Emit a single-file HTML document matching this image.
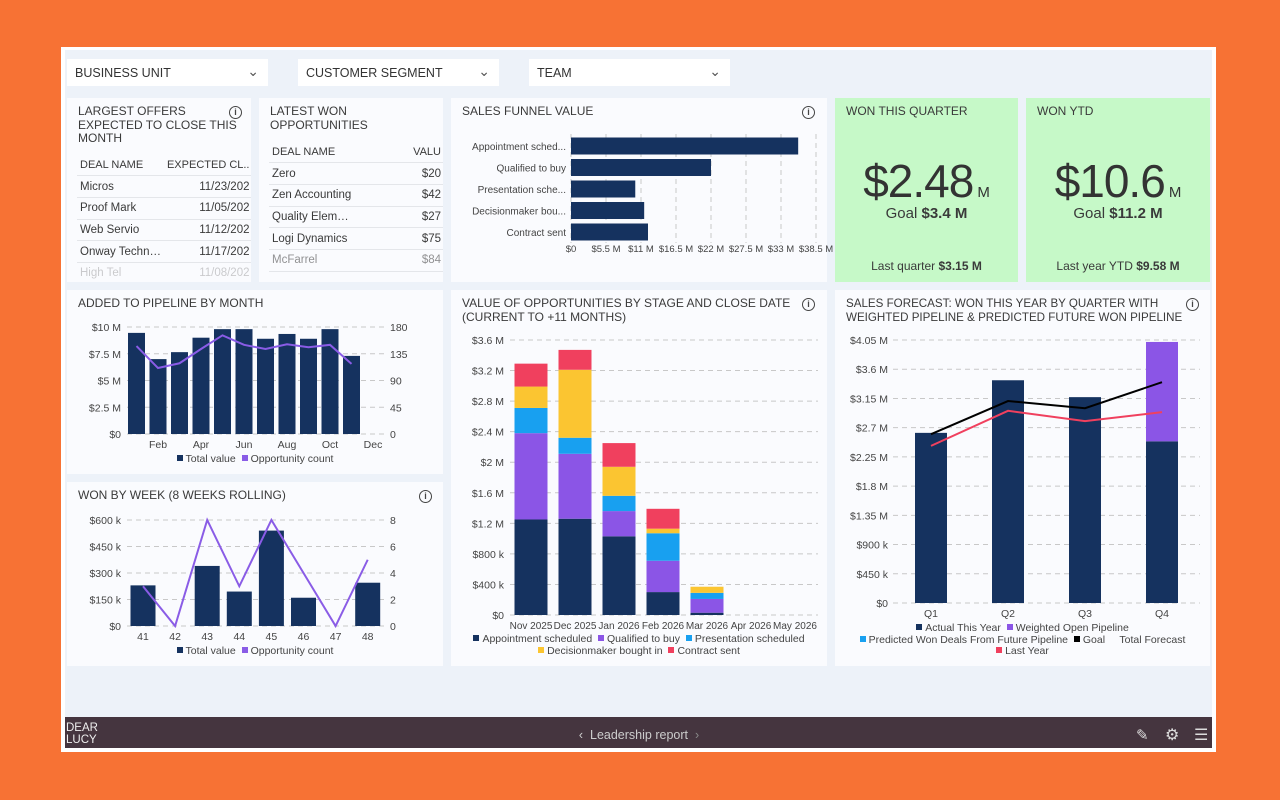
<!DOCTYPE html>
<html><head><meta charset="utf-8">
<style>
*{box-sizing:border-box;margin:0;padding:0}
body{width:1280px;height:800px;background:#F77234;font-family:"Liberation Sans",sans-serif;color:#3a3a3a;position:relative;overflow:hidden}
.abs{position:absolute}
#frame{left:61px;top:47px;width:1155px;height:705px;background:#fff}
#dash{left:65px;top:50px;width:1147px;height:667px;background:#EDF2F9}
.dd{position:absolute;top:59px;width:201px;height:27px;background:#fff;font-size:12.5px;padding:7px 8px;color:#333}
.dd span{position:absolute;right:9px;top:4px;font-size:14px;color:#555}
.panel{position:absolute;background:#FAFBFE;overflow:hidden}
.title{position:absolute;left:11px;top:7px;font-size:12px;line-height:13.5px;color:#3a3a3a;text-transform:uppercase}
.info{position:absolute;width:13px;height:13px;border:1.5px solid #444;border-radius:50%;font-size:9px;font-weight:bold;text-align:center;line-height:10px;color:#444}
.green{background:#C6F9C8}
table{border-collapse:collapse;font-size:11.5px;position:absolute}
td{height:21.7px;border-bottom:1px solid #e4e6ea;white-space:nowrap;overflow:hidden;padding:0 3px}
.leg{position:absolute;font-size:10.5px;color:#444;text-align:center;white-space:nowrap}
.sq{display:inline-block;width:6px;height:6px;margin-right:3px;vertical-align:1px}
#footer{left:65px;top:717px;width:1147px;height:31px;background:#45353F}
svg text{font-family:"Liberation Sans",sans-serif}
.big{position:absolute;left:0;top:56px;text-align:center;font-size:46px;color:#333;letter-spacing:-1px}
.big span{font-size:15px;letter-spacing:0;margin-left:4px}
</style></head>
<body>
<div id="frame" class="abs"></div>
<div id="dash" class="abs"></div>

<div class="dd" style="left:67px">BUSINESS UNIT<span>&#8964;</span></div>
<div class="dd" style="left:298px">CUSTOMER SEGMENT<span>&#8964;</span></div>
<div class="dd" style="left:529px">TEAM<span>&#8964;</span></div>

<div class="panel" style="left:67px;top:98px;width:184px;height:184px">
<div class="title">Largest offers<br>expected to close this<br>month</div>
<div class="info" style="left:162px;top:8px">i</div>
<table style="left:10px;top:56px;width:166px">
<tr><td style="font-size:11px">DEAL NAME</td><td style="text-align:right;font-size:11px">EXPECTED CL..</td></tr>
<tr><td>Micros</td><td style="text-align:right">11/23/202</td></tr>
<tr><td>Proof Mark</td><td style="text-align:right">11/05/202</td></tr>
<tr><td>Web Servio</td><td style="text-align:right">11/12/202</td></tr>
<tr><td>Onway Techn…</td><td style="text-align:right">11/17/202</td></tr>
<tr style="opacity:.25"><td>High Tel</td><td style="text-align:right">11/08/202</td></tr>
</table>
</div>

<div class="panel" style="left:259px;top:98px;width:184px;height:184px">
<div class="title">Latest won<br>opportunities</div>
<table style="left:10px;top:43px;width:175px">
<tr><td style="font-size:11px">DEAL NAME</td><td style="text-align:right;font-size:11px">VALU</td></tr>
<tr><td>Zero</td><td style="text-align:right">$20</td></tr>
<tr><td>Zen Accounting</td><td style="text-align:right">$42</td></tr>
<tr><td>Quality Elem…</td><td style="text-align:right">$27</td></tr>
<tr><td>Logi Dynamics</td><td style="text-align:right">$75</td></tr>
<tr style="opacity:.55"><td>McFarrel</td><td style="text-align:right">$84</td></tr>
</table>
</div>

<div class="panel" style="left:451px;top:98px;width:376px;height:184px">
<div class="title">Sales funnel value</div>
<div class="info" style="left:351px;top:8px">i</div>
</div>

<div class="panel green" style="left:835px;top:98px;width:183px;height:184px">
<div class="title">Won this quarter</div>
<div class="big" style="width:183px">$2.48<span>M</span></div>
<div class="abs" style="left:0;width:183px;top:107px;text-align:center;font-size:15px">Goal <b>$3.4 M</b></div>
<div class="abs" style="left:0;width:183px;top:161px;text-align:center;font-size:12px">Last quarter <b>$3.15 M</b></div>
</div>

<div class="panel green" style="left:1026px;top:98px;width:184px;height:184px">
<div class="title">Won YTD</div>
<div class="big" style="width:184px">$10.6<span>M</span></div>
<div class="abs" style="left:0;width:184px;top:107px;text-align:center;font-size:15px">Goal <b>$11.2 M</b></div>
<div class="abs" style="left:0;width:184px;top:161px;text-align:center;font-size:12px">Last year YTD <b>$9.58 M</b></div>
</div>

<div class="panel" style="left:67px;top:290px;width:376px;height:184px">
<div class="title">Added to pipeline by month</div>
<div class="leg" style="left:0;width:376px;top:163px"><span class="sq" style="background:#15325F"></span>Total value &nbsp;<span class="sq" style="background:#8A5CE6"></span>Opportunity count</div>
</div>

<div class="panel" style="left:67px;top:482px;width:376px;height:184px">
<div class="title">Won by week (8 weeks rolling)</div>
<div class="info" style="left:352px;top:8px">i</div>
<div class="leg" style="left:0;width:376px;top:163px"><span class="sq" style="background:#15325F"></span>Total value &nbsp;<span class="sq" style="background:#8A5CE6"></span>Opportunity count</div>
</div>

<div class="panel" style="left:451px;top:290px;width:376px;height:376px">
<div class="title">Value of opportunities by stage and close date<br>(current to +11 months)</div>
<div class="info" style="left:351px;top:8px">i</div>
<div class="leg" style="left:0;width:376px;top:343px;line-height:12px"><span class="sq" style="background:#15325F"></span>Appointment scheduled &nbsp;<span class="sq" style="background:#8B55E6"></span>Qualified to buy &nbsp;<span class="sq" style="background:#18A0F0"></span>Presentation scheduled<br><span class="sq" style="background:#FBC531"></span>Decisionmaker bought in &nbsp;<span class="sq" style="background:#F0405E"></span>Contract sent</div>
</div>

<div class="panel" style="left:835px;top:290px;width:375px;height:376px">
<div class="title" style="font-size:11.6px">Sales forecast: won this year by quarter with<br>weighted pipeline &amp; predicted future won pipeline</div>
<div class="info" style="left:351px;top:8px">i</div>
<div class="leg" style="left:0;width:375px;top:333px;line-height:11.7px"><span class="sq" style="background:#15325F"></span>Actual This Year &nbsp;<span class="sq" style="background:#8B55E6"></span>Weighted Open Pipeline<br><span class="sq" style="background:#18A0F0"></span>Predicted Won Deals From Future Pipeline &nbsp;<span class="sq" style="background:#000"></span>Goal &nbsp;&nbsp;&nbsp; Total Forecast<br><span class="sq" style="background:#F0405E"></span>Last Year</div>
</div>

<div id="footer" class="abs">
<div class="abs" style="left:1px;top:5px;font-size:11.5px;line-height:12px;color:#eee">DEAR<br>LUCY</div>
<div class="abs" style="left:495px;width:158px;top:11px;text-align:center;font-size:12.5px;color:#ccc">&#8249;&nbsp; Leadership report &nbsp;<span style="color:#888">&#8250;</span></div>
<div class="abs" style="left:1071px;top:9px;font-size:15px;color:#ddd">&#9998;</div>
<div class="abs" style="left:1100px;top:8px;font-size:16px;color:#ddd">&#9881;</div>
<div class="abs" style="left:1129px;top:8px;font-size:16px;color:#ddd">&#9776;</div>
</div>

<svg id="charts" class="abs" style="left:0;top:0" width="1280" height="800"></svg>

<script>
// ---- data ----
const pipeMonths=['Jan','Feb','Mar','Apr','May','Jun','Jul','Aug','Sep','Oct','Nov','Dec'];
const pipeValues=[9.45,7.0,7.65,9.0,9.8,9.8,8.9,9.35,8.9,9.8,7.3,0];
const pipeCounts=[148,111,119,143,166,150,143,151,146,150,118];
const pipeLeftTicks=[0,2.5,5,7.5,10];
const pipeLeftLabels=['$0','$2.5 M','$5 M','$7.5 M','$10 M'];
const pipeRightTicks=[0,45,90,135,180];

const weeks=['41','42','43','44','45','46','47','48'];
const weekValues=[230,0,340,195,540,160,0,245];
const weekCounts=[3,0,8,3,8,4,0,5];
const weekLeftTicks=[0,150,300,450,600];
const weekLeftLabels=['$0','$150 k','$300 k','$450 k','$600 k'];
const weekRightTicks=[0,2,4,6,8];

const funnelStages=['Appointment sched...','Qualified to buy','Presentation sche...','Decisionmaker bou...','Contract sent'];
const funnelValues=[35.7,22.0,10.1,11.5,12.1];
const funnelTicks=[0,5.5,11,16.5,22,27.5,33,38.5];
const funnelLabels=['$0','$5.5 M','$11 M','$16.5 M','$22 M','$27.5 M','$33 M','$38.5 M'];

const stageMonths=['Nov 2025','Dec 2025','Jan 2026','Feb 2026','Mar 2026','Apr 2026','May 2026'];
const stageAppt=[1.25,1.26,1.03,0.30,0.03,0,0];
const stageQual=[1.13,0.85,0.33,0.41,0.18,0,0];
const stagePres=[0.33,0.21,0.20,0.36,0.08,0,0];
const stageDec=[0.28,0.89,0.38,0.06,0.08,0,0];
const stageContract=[0.30,0.26,0.31,0.26,0,0,0];
const stageTicks=[0,0.4,0.8,1.2,1.6,2,2.4,2.8,3.2,3.6];
const stageLabels=['$0','$400 k','$800 k','$1.2 M','$1.6 M','$2 M','$2.4 M','$2.8 M','$3.2 M','$3.6 M'];

const quarters=['Q1','Q2','Q3','Q4'];
const fcActual=[2.62,3.43,3.17,2.49];
const fcWeighted=[0,0,0,1.53];
const fcGoal=[2.6,3.11,3.0,3.40];
const fcLastYear=[2.42,2.96,2.80,2.94];
const fcTicks=[0,0.45,0.9,1.35,1.8,2.25,2.7,3.15,3.6,4.05];
const fcLabels=['$0','$450 k','$900 k','$1.35 M','$1.8 M','$2.25 M','$2.7 M','$3.15 M','$3.6 M','$4.05 M'];

const NAVY='#15325F',PURP='#8B55E6',BLUE='#18A0F0',YEL='#FBC531',RED='#F0405E',LINEP='#8A5CE6';
const NS='http://www.w3.org/2000/svg';
const svg=document.getElementById('charts');
function mk(tag,a){const e=document.createElementNS(NS,tag);for(const k in a)e.setAttribute(k,a[k]);svg.appendChild(e);return e;}
function txt(x,y,s,anchor,size){const t=mk('text',{x:x,y:y,'text-anchor':anchor,'font-size':size,fill:'#444'});t.textContent=s;return t;}
function grid(x1,x2,y){return mk('line',{x1:x1,x2:x2,y1:y,y2:y,stroke:'#c8c8c8','stroke-dasharray':'5,4'});}

// ---- pipeline ----
(function(){
const X=i=>136.5+21.5*i, Y=v=>434-v*10.7, YC=c=>434-c/180*107;
pipeLeftTicks.forEach((v,i)=>{
 const g=grid(127,384,Y(v));
 
 
 const t=txt(121,Y(v)+4,pipeLeftLabels[i],'end',10.5);
 
 
});
pipeRightTicks.forEach(c=>{
 const t=txt(390,YC(c)+4,String(c),'start',10.5);
 
 
});
pipeValues.forEach((v,i)=>{
 const r=mk('rect',{x:X(i)-8.5,y:Y(v),width:17,height:434-Y(v),fill:NAVY});
 
 
});
pipeMonths.forEach((m,i)=>{ if(i%2===1){
 const t=txt(X(i),448,m,'middle',10.5);
 
 
}});
const p=mk('polyline',{points:pipeCounts.map((c,i)=>X(i)+','+YC(c)).join(' '),fill:'none',stroke:LINEP,'stroke-width':2});


})();

// ---- won by week ----
(function(){
const X=i=>143+32.1*i, Y=v=>626-v/600*106, YC=c=>626-c/8*106;
weekLeftTicks.forEach((v,i)=>{
 const g=grid(127,384,Y(v));
 
 
 const t=txt(121,Y(v)+4,weekLeftLabels[i],'end',10.5);
 
 
});
weekRightTicks.forEach(c=>{
 const t=txt(390,YC(c)+4,String(c),'start',10.5);
 
 
});
weekValues.forEach((v,i)=>{
 const r=mk('rect',{x:X(i)-12.5,y:Y(v),width:25,height:626-Y(v),fill:NAVY});
 
 
});
weeks.forEach((w,i)=>{
 const t=txt(X(i),640,w,'middle',10.5);
 
 
});
const p=mk('polyline',{points:weekCounts.map((c,i)=>X(i)+','+YC(c)).join(' '),fill:'none',stroke:LINEP,'stroke-width':2});


})();

// ---- funnel ----
(function(){
const X=v=>571+v/5.5*35, Y=i=>146+21.5*i;
funnelTicks.forEach((v,i)=>{
 const l=mk('line',{x1:X(v),x2:X(v),y1:134,y2:243,stroke:'#c8c8c8','stroke-dasharray':'5,4'});
 
 
 const t=txt(X(v),252,funnelLabels[i],'middle',9.5);
 
 
});
funnelValues.forEach((v,i)=>{
 const r=mk('rect',{x:571,y:Y(i)-8.5,width:X(v)-571,height:17,fill:NAVY});
 
 
 const t=txt(566,Y(i)+4,funnelStages[i],'end',10);
 
 
});
})();

// ---- stacked ----
(function(){
const X=i=>531+44*i, Y=v=>615-v*76.4;
stageTicks.forEach((v,i)=>{
 const g=grid(510,818,Y(v));
 
 
 const t=txt(504,Y(v)+4,stageLabels[i],'end',10.5);
 
 
});
const series=[[stageAppt,NAVY],[stageQual,PURP],[stagePres,BLUE],[stageDec,YEL],[stageContract,RED]];
stageMonths.forEach((m,i)=>{
 let base=0;
 series.forEach(s=>{
  const v=s[0][i];
  if(v>0){
   const r=mk('rect',{x:X(i)-16.5,y:Y(base+v),width:33,height:Y(base)-Y(base+v),fill:s[1]});
   
   
  }
  base+=v;
 });
 const t=txt(X(i),629,m,'middle',10);
 
 
});
})();

// ---- forecast ----
(function(){
const X=i=>931+77*i, Y=v=>603-v/4.05*263;
fcTicks.forEach((v,i)=>{
 const g=grid(893,1200,Y(v));
 
 
 const t=txt(888,Y(v)+4,fcLabels[i],'end',10.5);
 
 
});
quarters.forEach((q,i)=>{
 const r=mk('rect',{x:X(i)-16,y:Y(fcActual[i]),width:32,height:603-Y(fcActual[i]),fill:NAVY});
 
 
 if(fcWeighted[i]>0){
  const w=mk('rect',{x:X(i)-16,y:Y(fcActual[i]+fcWeighted[i]),width:32,height:Y(fcActual[i])-Y(fcActual[i]+fcWeighted[i]),fill:PURP});
  
  
 }
 const t=txt(X(i),617,q,'middle',10.5);
 
 
});
const g=mk('polyline',{points:fcGoal.map((v,i)=>X(i)+','+Y(v)).join(' '),fill:'none',stroke:'#000','stroke-width':2});


const l=mk('polyline',{points:fcLastYear.map((v,i)=>X(i)+','+Y(v)).join(' '),fill:'none',stroke:RED,'stroke-width':2});


})();
</script>
</body></html>
